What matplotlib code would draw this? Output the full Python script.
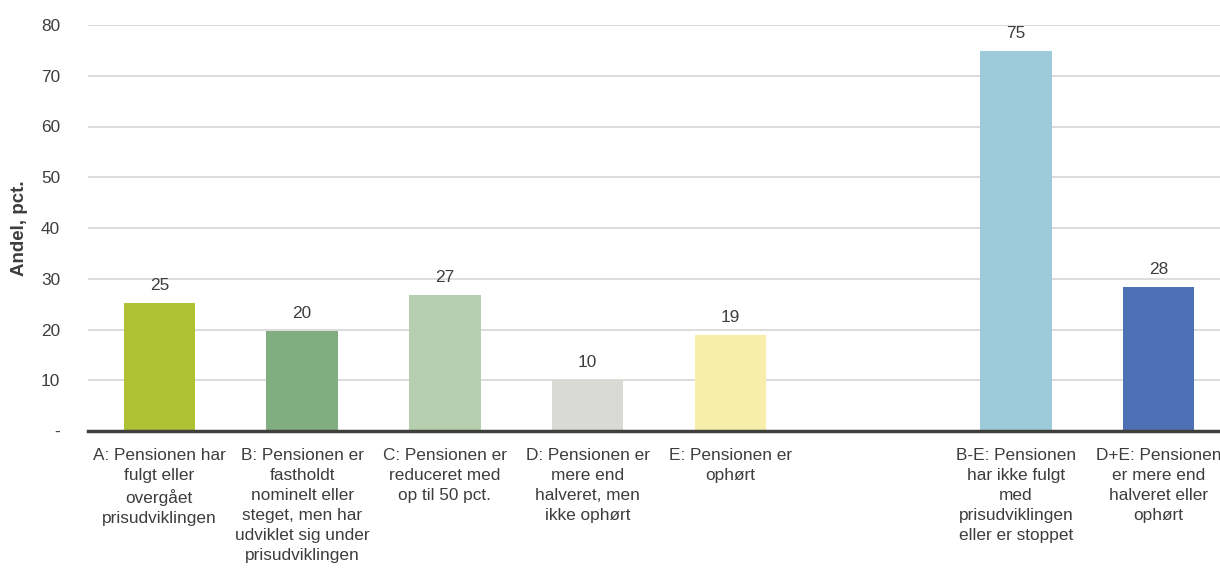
import matplotlib
matplotlib.use("Agg")
import matplotlib.pyplot as plt

plt.rcParams['font.family'] = ['Liberation Sans', 'DejaVu Sans']

categories = [
    "A: Pensionen har\nfulgt eller\novergået\nprisudviklingen",
    "B: Pensionen er\nfastholdt\nnominelt eller\nsteget, men har\nudviklet sig under\nprisudviklingen",
    "C: Pensionen er\nreduceret med\nop til 50 pct.",
    "D: Pensionen er\nmere end\nhalveret, men\nikke ophørt",
    "E: Pensionen er\nophørt",
    "",
    "B-E: Pensionen\nhar ikke fulgt\nmed\nprisudviklingen\neller er stoppet",
    "D+E: Pensionen\ner mere end\nhalveret eller\nophørt",
]
values = [25.2, 19.7, 26.8, 10.0, 18.9, None, 74.9, 28.4]
colors = ["#adc133", "#80ae80", "#b5cfaf", "#d9d9d5", "#f6eeaa", None, "#9dcbd9", "#4e71b5"]
yticks = [0, 10, 20, 30, 40, 50, 60, 70, 80]
yticklabels = ["-", "10", "20", "30", "40", "50", "60", "70", "80"]

text_color = "#3d3d3d"
fs = 12.4

fig = plt.figure(figsize=(12.2, 5.81), dpi=100)
ax = fig.add_axes([88 / 1220, 1 - 431 / 581, (1230 - 88) / 1220, (431 - 25) / 581])

for i, (v, c) in enumerate(zip(values, colors)):
    if v is None:
        continue
    ax.bar(i, v, width=0.5, color=c, zorder=3)
    ax.text(i, v + 2.0, f"{v:.0f}", ha="center", va="bottom",
            fontsize=fs, color=text_color)

ax.set_xlim(-0.5, 7.5)
ax.set_ylim(0, 80)
ax.set_yticks(yticks)
ax.set_yticklabels(yticklabels, fontsize=fs, color=text_color)
ax.set_xticks(range(len(categories)))
ax.set_xticklabels(categories, fontsize=fs, color=text_color, linespacing=1.43)
ax.tick_params(axis="both", length=0)
ax.tick_params(axis="y", pad=20)
ax.tick_params(axis="x", pad=12)

ax.grid(axis="y", color="#d9d9d9", linewidth=1.3, zorder=0)
for s in ["top", "right", "left"]:
    ax.spines[s].set_visible(False)
ax.spines["bottom"].set_color("#3f403c")
ax.spines["bottom"].set_linewidth(2.5)
ax.spines["bottom"].set_zorder(4)

ax.set_ylabel("Andel, pct.", fontsize=13.5, fontweight="bold", color=text_color)
ax.yaxis.set_label_coords((28 - 88) / 1142, 0.5)

fig.savefig("out.png", dpi=100)
